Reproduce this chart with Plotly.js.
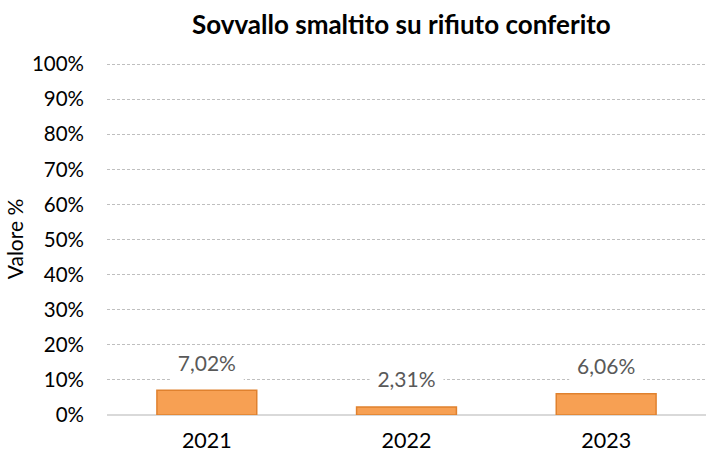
<!DOCTYPE html>
<html>
<head>
<meta charset="utf-8">
<script src="https://cdn.plot.ly/plotly-3.0.1.min.js"></script>
<style>html,body{margin:0;padding:0;background:#fff;}#chart{width:706px;height:454px;}</style>
</head>
<body>
<div id="chart"></div>
<script>
const categories = ['2021', '2022', '2023'];
const values = [7.02, 2.31, 6.06];
const tickValues = [0, 10, 20, 30, 40, 50, 60, 70, 80, 90, 100];
const tickLabels = ['0%', '10%', '20%', '30%', '40%', '50%', '60%', '70%', '80%', '90%', '100%'];
const chartTitle = 'Sovvallo smaltito su rifiuto conferito';
const yTitle = 'Valore %';

const fmt = v => v.toFixed(2).replace('.', ',') + '%';
const FONT = 'Lato, sans-serif';
// label placement (style, in axis units)
const LABEL_GAP = 7.1, BOX_GAP = 2.5, BOX_H = 8.5;

const traces = [
  {
    type: 'bar', x: categories, y: values, width: 0.5,
    marker: { color: '#F7A053', line: { color: '#E0812E', width: 1.5 } },
    hoverinfo: 'skip'
  },
  { // white backdrop behind data labels (hides gridline, like the original label box)
    type: 'bar', x: categories, y: values.map(() => BOX_H),
    base: values.map(v => v + BOX_GAP), width: 0.37,
    marker: { color: '#ffffff', line: { width: 0 } },
    hoverinfo: 'skip'
  },
  {
    type: 'scatter', mode: 'text', x: categories,
    y: values.map(v => v + LABEL_GAP),
    text: values.map(fmt), textposition: 'middle center',
    textfont: { family: FONT, size: 21, color: '#595959' },
    hoverinfo: 'skip', cliponaxis: false
  }
];

const layout = {
  width: 706, height: 454,
  margin: { l: 107, r: 0, t: 63, b: 39 },
  paper_bgcolor: '#ffffff', plot_bgcolor: '#ffffff',
  showlegend: false, barmode: 'overlay',
  title: { text: '<b>' + chartTitle + '</b>', x: 0.5685, xanchor: 'center', y: 0.945, yanchor: 'middle',
           font: { family: FONT, size: 26, color: '#000000' } },
  xaxis: {
    type: 'category', range: [-0.5, 2.5],
    showgrid: false, showline: false, ticks: '',
    ticklabelstandoff: 10,
    tickfont: { family: FONT, size: 21.5, color: '#000000' }
  },
  yaxis: {
    range: [0, 100.3], tickmode: 'array', tickvals: tickValues, ticktext: tickLabels,
    showgrid: true, gridcolor: '#BFBFBF', gridwidth: 1, griddash: '3px,2px',
    zeroline: true, zerolinecolor: '#D9D9D9', zerolinewidth: 2,
    showline: false, ticks: '', ticklabelstandoff: 22,
    tickfont: { family: FONT, size: 20.5, color: '#000000' },
    title: { text: yTitle, standoff: 2, font: { family: FONT, size: 21, color: '#000000' } }
  }
};

Plotly.newPlot('chart', traces, layout, { displayModeBar: false, staticPlot: true });
</script>
</body>
</html>
